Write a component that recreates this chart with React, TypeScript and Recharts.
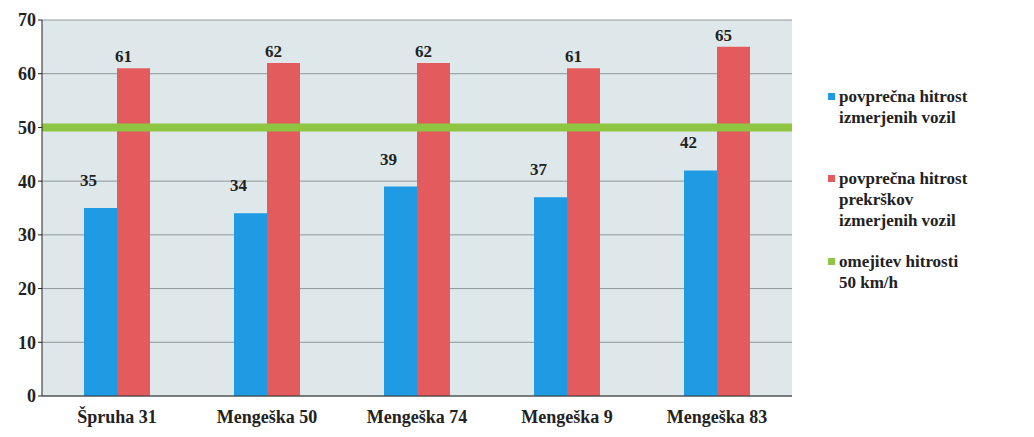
import { BarChart, Bar, XAxis, YAxis, CartesianGrid, ReferenceLine, LabelList } from 'recharts'

const locations = ['Špruha 31', 'Mengeška 50', 'Mengeška 74', 'Mengeška 9', 'Mengeška 83']
const avgSpeed = [35, 34, 39, 37, 42]
const avgViolatorSpeed = [61, 62, 62, 61, 65]
const speedLimit = 50
const yTicks = [0, 10, 20, 30, 40, 50, 60, 70]

const seriesNames = [
  ['povprečna hitrost', 'izmerjenih vozil'],
  ['povprečna hitrost', 'prekrškov', 'izmerjenih vozil'],
  ['omejitev hitrosti', '50 km/h'],
]
const seriesColors = ['#1e9be3', '#e35b5d', '#8ec641']

const data = locations.map((name, i) => ({
  name,
  avg: avgSpeed[i],
  violators: avgViolatorSpeed[i],
}))

const font = '"Times New Roman", Tinos, "Liberation Serif", "DejaVu Serif", serif'

const App = () => {
  return (
    <div style={{ position: 'absolute', left: 0, top: 0, width: 1034, height: 437, background: '#fff', fontFamily: font }}>
      <BarChart
        width={800}
        height={437}
        data={data}
        margin={{ top: 20, right: 8, left: 0, bottom: 0 }}
        barCategoryGap="28%"
        barGap={0}
      >
        <CartesianGrid vertical={false} fill="#dee7e9" stroke="#8f9899" />
        <XAxis
          dataKey="name"
          height={41}
          stroke="#333"
          tickLine={false}
          tick={{ fontFamily: font, fontSize: 18, fontWeight: 700, fill: '#222' }}
          tickMargin={8}
        />
        <YAxis
          width={42}
          domain={[0, 70]}
          ticks={yTicks}
          stroke="#222"
          tickSize={4}
          tick={{ fontFamily: font, fontSize: 18, fontWeight: 700, fill: '#222' }}
        />
        <ReferenceLine y={speedLimit} stroke={seriesColors[2]} strokeWidth={8} />
        <Bar dataKey="avg" fill={seriesColors[0]} isAnimationActive={false}>
          <LabelList
            dataKey="avg"
            position="top"
            offset={22}
            dx={-12}
            style={{ fontFamily: font, fontSize: 17, fontWeight: 700, fill: '#222' }}
          />
        </Bar>
        <Bar dataKey="violators" fill={seriesColors[1]} isAnimationActive={false}>
          <LabelList
            dataKey="violators"
            position="top"
            offset={6}
            dx={-10}
            style={{ fontFamily: font, fontSize: 17, fontWeight: 700, fill: '#222' }}
          />
        </Bar>
      </BarChart>

      {/* legend */}
      <div style={{ position: 'absolute', left: 828, top: 86, fontSize: 17, fontWeight: 700, color: '#222', lineHeight: '21px' }}>
        {seriesNames.map((lines, i) => (
          <div key={i} style={{ display: 'flex', alignItems: 'flex-start', marginBottom: [40, 20, 0][i] }}>
            <span style={{ width: 7, height: 7, background: seriesColors[i], marginTop: 7, marginRight: 4, flexShrink: 0 }} />
            <div>
              {lines.map(l => (
                <div key={l}>{l}</div>
              ))}
            </div>
          </div>
        ))}
      </div>
    </div>
  )
}

export default App
